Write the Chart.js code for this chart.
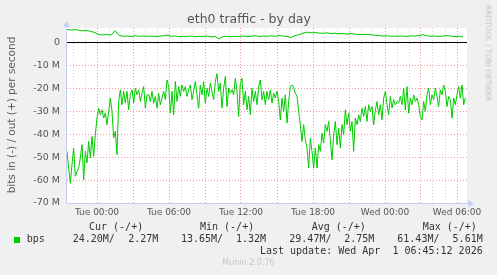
<!DOCTYPE html>
<html>
<head>
<meta charset="utf-8">
<script src="https://cdn.jsdelivr.net/npm/chart.js@4"></script>
<style>
  html, body { margin: 0; padding: 0; background: #f0f0f0; }
  #wrap { position: relative; width: 497px; height: 275px; overflow: hidden; }
  canvas { position: absolute; left: 0; top: 0; }
  .t { position: absolute; white-space: pre; }
  .mono { font-family: 'DejaVu Sans Mono', monospace; font-size: 10px; line-height: 10px; color: #333; }
</style>
</head>
<body>
<div id="wrap">
  <canvas id="chart" width="497" height="275"></canvas>
  <div class="t" style="left:0;width:497px;text-align:center;top:12.7px;font:12.5px/12.5px 'DejaVu Sans';color:#555;margin-left:0.5px">eth0 traffic - by day</div>
  <div class="t" style="left:-89px;top:110px;width:200px;height:10px;text-align:center;font:normal 400 10.5px/10px 'DejaVu Sans';color:#5a5a5a;transform:rotate(-90deg)">bits in (-) / out (+) per second</div>
  <div class="t" style="left:438px;top:51px;width:100px;text-align:left;font:7.5px/7.5px 'DejaVu Sans';color:#c0c0c0;transform:rotate(90deg)">RRDTOOL / TOBI OETIKER</div>

  <div class="t mono" style="left:89px;top:222.2px">Cur (-/+)</div>
  <div class="t mono" style="left:200px;top:222.2px">Min (-/+)</div>
  <div class="t mono" style="left:311.7px;top:222.2px">Avg (-/+)</div>
  <div class="t mono" style="left:422.7px;top:222.2px">Max (-/+)</div>

  <div class="t" style="left:14px;top:237px;width:5.5px;height:5.5px;background:#00cc00"></div>
  <div class="t mono" style="left:26.7px;top:234.2px">bps</div>
  <div class="t mono" style="left:72.7px;top:234.2px">24.20M/</div>
  <div class="t mono" style="right:338.7px;top:234.2px">2.27M</div>
  <div class="t mono" style="left:181px;top:234.2px">13.65M/</div>
  <div class="t mono" style="right:231px;top:234.2px">1.32M</div>
  <div class="t mono" style="left:289.3px;top:234.2px">29.47M/</div>
  <div class="t mono" style="right:122.7px;top:234.2px">2.75M</div>
  <div class="t mono" style="left:397.3px;top:234.2px">61.43M/</div>
  <div class="t mono" style="right:14.3px;top:234.2px">5.61M</div>

  <div class="t mono" style="right:14.3px;top:246.2px">Last update: Wed Apr  1 06:45:12 2026</div>
  <div class="t" style="left:0;width:497px;text-align:center;top:259.2px;font:8px/8px 'DejaVu Sans';color:#c8c8c8">Munin 2.0.76</div>
</div>
<script>
// hours since left edge of graph (Mon 21:30)
const IN_START = 0;
const IN_STEP = 5 / 36;   // one reading per ~8 min
const OUT_START = 0;
const OUT_STEP = 1 / 3;   // one reading per 20 min

// traffic in (drawn negative), Mbit/s
const IN_BPS = [
  -47.5,-54.8,-61.4,-53.3,-46.1,-58.4,-56.2,-54.8,-50.4,-44.6,-59.9,-47.5,-52.6,-43.2,-50.4,-41,-49.7,-40.3,-33,-28.7,
  -31.6,-29.4,-33,-30.9,-35.9,-30.1,-24.3,-30.1,-41.7,-38.8,-49,-25.8,-20.7,-27.2,-21.4,-26.5,-21.4,-29.4,-22.9,-20.7,
  -26.5,-20,-22.9,-20.7,-25.8,-22.2,-19.3,-28.7,-22.9,
  -22.9,-25.8,-21.4,-26.5,-23.6,-28.7,-22.2,-27.2,-24.3,-21.4,-25,-16.4,-19.3,-30.9,-21.4,-31.6,-17.1,-25.8,-19.3,-23.6,
  -18.6,-21.4,-19.3,-23.6,-20.7,-18.6,-25,-21.4,-17.1,-22.9,-28.7,-18.6,-22.9,-17.1,-26.5,-20,-23.6,-17.8,-21.4,-25,
  -17.1,-13.7,-21.4,-17.8,-28.7,-20,-14.9,-28,-20,-22.2,
  -20.7,-22.9,-15.7,-21.4,-32.3,-17.8,-15.7,-27.2,-21.4,-29.4,-23.6,-31.6,-20,-25.8,-21.4,-27.2,-19.3,-16.4,-25,-21.4,
  -27.2,-21.4,-25,-20.7,-26.5,-22.2,-24.3,-21.4,-25.8,-33.8,-24.3,-30.1,-22.9,-35.2,-25.8,-19.3,-18.6,-20,-22.2,-23.6,
  -30.1,-35.9,-43.2,-35.9,-42.5,-46,-54.8,-41.7,-47.5,-54.8,
  -46,-54.8,-44.6,-47.5,-39.6,-43.9,-35.9,-38.8,-34.5,-42.5,-51.2,-40.3,-34.5,-44.6,-37.4,-46,-35.9,-40.3,-29.4,-35.9,
  -30.9,-38.8,-34.5,-47.5,-33,-35.9,-31.6,-34.5,-28.7,-32.3,-28,-34.5,-27.2,-30.1,-28,-35.9,-29.4,-25.8,-31.6,-27.2,
  -33.8,-24.3,-21.4,-27.2,-31.6,-23.6,-28.7,-25,-27.2,-25.8,
  -26.5,-23.6,-27.2,-20,-29.4,-19.3,-30.9,-24.3,-27.2,-22.9,-25.8,-24.3,-27.2,-32.3,-33.8,-25.8,-30.1,-22.9,-20,-27.2,
  -22.9,-25,-20,-23.6,-28,-20.7,-22.9,-18.6,-21.4,-28,-23.6,-25,-33,-24.3,-27.2,-22.9,-19.3,-24.3,-18.6,-27.2,-24.2
];

// traffic out, Mbit/s
const OUT_BPS = [
  5.6,5.3,5.5,5.2,5.0,5.1,4.7,4.2,3.3,3.2, 3.4,3.1,5.0,3.0,2.6,2.7,2.5,2.8,2.6,2.7,
  2.6,2.7,2.5,2.6,2.8,3.1,2.6,2.7,2.4,2.6, 2.5,2.7,2.4,2.6,2.5,2.7,2.3,2.6,1.4,2.5,
  2.6,2.4,2.6,2.5,2.7,2.5,2.6,2.8,2.5,2.7, 2.6,2.8,2.6,2.9,2.7,2.5,2.1,2.9,3.3,4.0,
  4.4,4.1,4.2,4.0,3.9,4.1,3.8,3.9,3.7,3.8, 3.5,3.9,3.5,3.4,3.3,3.4,3.2,3.1,2.9,2.7,
  2.8,2.6,2.7,2.6,2.7,2.5,2.8,2.7,2.9,3.3, 2.8,2.6,2.7,2.5,2.7,2.9,2.7,2.4,2.6,2.3
];

const X_TICK_HOURS  = [2.5, 8.5, 14.5, 20.5, 26.5, 32.5];
const X_TICK_LABELS = ['Tue 00:00', 'Tue 06:00', 'Tue 12:00', 'Tue 18:00', 'Wed 00:00', 'Wed 06:00'];
const Y_TICKS = [-70, -65, -60, -55, -50, -45, -40, -35, -30, -25, -20, -15, -10, -5, 0, 5];

const X_MAX = 400 / 12;
const RED = 'rgba(240,120,120,0.75)', GREY = '#d4d4d4';

const isMajorX = v => Math.abs((((v - 2.5) % 3) + 3) % 3) < 1e-6;

const plotBg = {
  id: 'plotBg',
  beforeDraw(chart) {
    const { ctx, chartArea: a } = chart;
    ctx.save();
    ctx.fillStyle = '#ffffff';
    ctx.fillRect(a.left, a.top, a.right - a.left, a.bottom - a.top);
    ctx.restore();
  }
};

const rrdAxes = {
  id: 'rrdAxes',
  afterDraw(chart) {
    const { ctx, chartArea: a } = chart;
    ctx.save();
    ctx.strokeStyle = ctx.fillStyle = '#c6cef4';
    ctx.lineWidth = 1;
    ctx.beginPath();
    ctx.moveTo(a.left - 0.5, a.bottom + 0.5); ctx.lineTo(a.left - 0.5, a.top - 4);
    ctx.moveTo(a.left - 0.5, a.bottom + 0.5); ctx.lineTo(a.right + 3, a.bottom + 0.5);
    ctx.stroke();
    ctx.beginPath();
    ctx.moveTo(a.left - 4, a.top - 1); ctx.lineTo(a.left + 3, a.top - 1); ctx.lineTo(a.left - 0.5, a.top - 7);
    ctx.closePath(); ctx.fill();
    ctx.beginPath();
    ctx.moveTo(a.right + 1, a.bottom - 3); ctx.lineTo(a.right + 1, a.bottom + 4); ctx.lineTo(a.right + 7, a.bottom + 0.5);
    ctx.closePath(); ctx.fill();
    ctx.restore();
  }
};

new Chart(document.getElementById('chart'), {
  type: 'line',
  data: {
    datasets: [
      { label: 'in', data: IN_BPS.map((v, i) => ({ x: IN_START + i * IN_STEP, y: v })),
        borderColor: '#00cc00', borderWidth: 1, pointRadius: 0, tension: 0, fill: false },
      { label: 'out', data: OUT_BPS.map((v, i) => ({ x: OUT_START + i * OUT_STEP, y: v })),
        borderColor: '#00cc00', borderWidth: 1, pointRadius: 0, tension: 0, fill: false }
    ]
  },
  options: {
    responsive: false, animation: false, devicePixelRatio: 1,
    layout: { padding: { left: 0, right: 30, top: 28, bottom: 0 } },
    plugins: { legend: { display: false }, tooltip: { enabled: false } },
    scales: {
      x: {
        type: 'linear', min: 0, max: X_MAX,
        afterFit: s => { s.height = 72; },
        afterBuildTicks: s => {
          const t = [];
          for (let h = 0.5; h < X_MAX; h += 1) t.push({ value: h });
          s.ticks = t;
        },
        ticks: {
          autoSkip: false, maxRotation: 0, padding: 4, color: '#555',
          font: { family: 'DejaVu Sans', size: 9 },
          callback: v => { const i = X_TICK_HOURS.indexOf(v); return i >= 0 ? X_TICK_LABELS[i] : ''; }
        },
        grid: { drawTicks: false, lineWidth: 1, color: c => isMajorX(c.tick?.value ?? 0) ? RED : GREY },
        border: { display: false, dash: [1, 2] }
      },
      y: {
        type: 'linear', min: -70, max: 6.2,
        afterFit: s => { s.width = 67; },
        afterBuildTicks: s => { s.ticks = Y_TICKS.map(v => ({ value: v })); },
        ticks: {
          padding: 7, color: '#555',
          font: { family: 'DejaVu Sans', size: 9.5 },
          callback: v => v % 10 !== 0 || v > 0 ? '' : (v === 0 ? '0' : v + ' M')
        },
        grid: {
          drawTicks: false,
          lineWidth: 1,
          color: c => { const v = c.tick?.value ?? 1; return v === 0 ? '#000000' : (v % 10 === 0 ? RED : GREY); }
        },
        border: { display: false, dash: c => (c.tick && c.tick.value === 0) ? [] : [1, 2] }
      }
    }
  },
  plugins: [plotBg, rrdAxes]
});
</script>
</body>
</html>
